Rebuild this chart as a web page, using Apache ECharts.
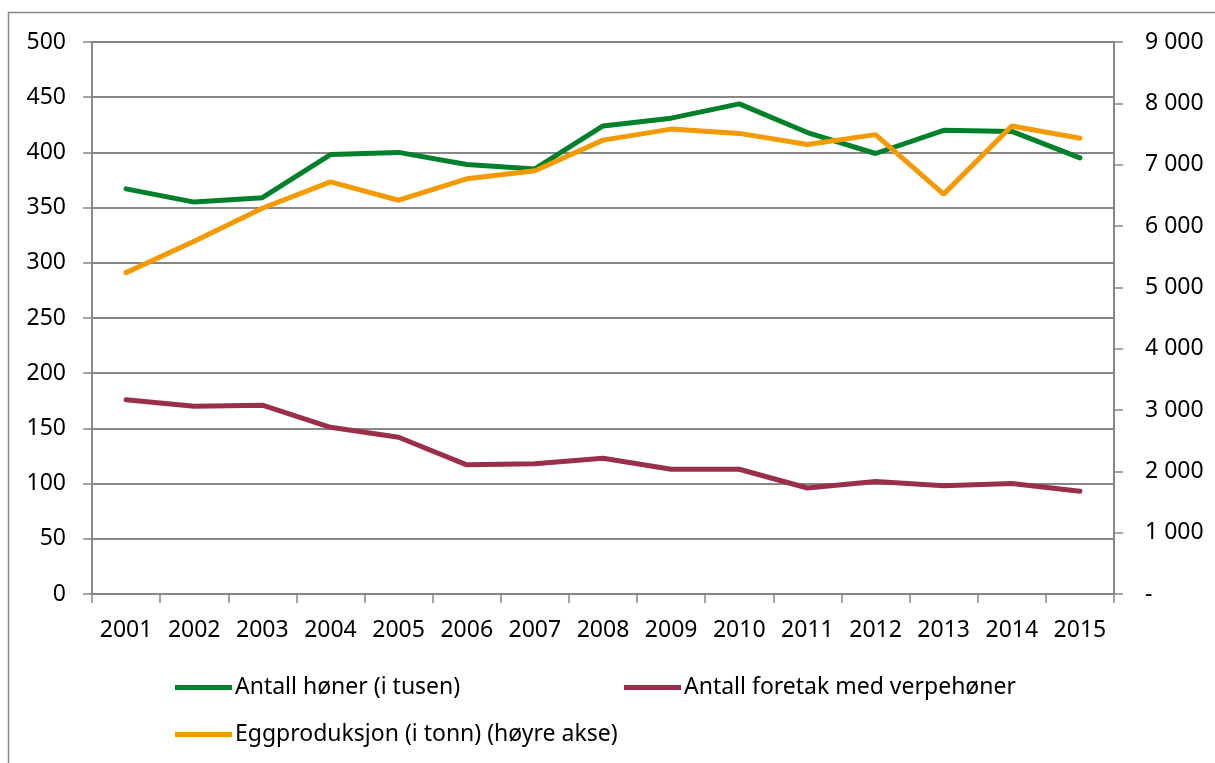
<!DOCTYPE html>
<html>
<head>
<meta charset="utf-8">
<script src="https://cdn.jsdelivr.net/npm/echarts@6/dist/echarts.min.js"></script>
<style>
  html, body { margin: 0; padding: 0; background: #fff; }
  #chart { width: 1215px; height: 763px; }
</style>
</head>
<body>
<div id="chart"></div>
<script>
// data
const years = ['2001', '2002', '2003', '2004', '2005', '2006', '2007', '2008',
  '2009', '2010', '2011', '2012', '2013', '2014', '2015'];
const hens = [367, 355, 359, 398, 400, 389, 385, 424, 431, 444, 418, 399, 420, 419, 395];
const farms = [176, 170, 171, 151, 142, 117, 118, 123, 113, 113, 96, 102, 98, 100, 93];
const eggs = [5240, 5750, 6290, 6720, 6420, 6770, 6900, 7400, 7580, 7510, 7330, 7490, 6520, 7630, 7430];
const names = ['Antall høner (i tusen)', 'Antall foretak med verpehøner', 'Eggproduksjon (i tonn) (høyre akse)'];
const colors = ['#00802b', '#9a2f4b', '#f39a00'];

const font = '"Noto Sans", "Open Sans", sans-serif';
const grey = '#878787';

const chart = echarts.init(document.getElementById('chart'));

// legend entries sit on a 2-column grid
function legendItem(name, left, top) {
  return {
    data: [name],
    left: left,
    top: top,
    padding: 0,
    icon: 'rect',
    itemWidth: 57,
    itemHeight: 5,
    selectedMode: false,
    textStyle: { fontFamily: font, fontSize: 23, color: '#000', padding: [0, 0, 0, -2] },
  };
}

const option = {
  backgroundColor: '#fff',
  animation: false,
  color: colors,
  textStyle: { fontFamily: font },
  graphic: [{
    type: 'rect',
    shape: { x: 8.5, y: 12.5, width: 1400, height: 900 },
    style: { fill: 'none', stroke: grey, lineWidth: 1.5 },
    silent: true,
  }],
  grid: { left: 92, right: 101, top: 42, bottom: 169 },
  legend: [
    legendItem(names[0], 175, 676),
    legendItem(names[1], 624, 676),
    legendItem(names[2], 175, 723),
  ],
  xAxis: {
    type: 'category',
    data: years,
    boundaryGap: true,
    axisLine: { lineStyle: { color: grey, width: 2 } },
    axisTick: { show: true, length: 9, lineStyle: { color: grey, width: 1.5 } },
    axisLabel: { interval: 0, margin: 25, fontSize: 23, color: '#000', fontFamily: font },
  },
  yAxis: [
    {
      type: 'value',
      min: 0,
      max: 500,
      interval: 50,
      axisLine: { show: true, lineStyle: { color: grey, width: 2 } },
      axisTick: { show: true, length: 9, lineStyle: { color: grey, width: 1.5 } },
      axisLabel: { margin: 26, fontSize: 23, color: '#000', fontFamily: font },
      splitLine: { lineStyle: { color: grey, width: 2 } },
    },
    {
      type: 'value',
      min: 0,
      max: 9000,
      interval: 1000,
      position: 'right',
      axisLine: { show: true, lineStyle: { color: grey, width: 2 } },
      axisTick: { show: true, length: 9, lineStyle: { color: grey, width: 1.5 } },
      splitLine: { show: false },
      axisLabel: {
        margin: 31,
        fontSize: 23,
        color: '#000',
        fontFamily: font,
        // 0 shown as "-", thousands split by a space
        formatter: v => v === 0 ? '-' : String(v).replace(/\B(?=(\d{3})+(?!\d))/g, ' '),
      },
    },
  ],
  series: [
    { name: names[0], type: 'line', data: hens, yAxisIndex: 0, showSymbol: false, symbol: 'none', lineStyle: { width: 5, cap: 'round' } },
    { name: names[1], type: 'line', data: farms, yAxisIndex: 0, showSymbol: false, symbol: 'none', lineStyle: { width: 5, cap: 'round' } },
    { name: names[2], type: 'line', data: eggs, yAxisIndex: 1, showSymbol: false, symbol: 'none', lineStyle: { width: 5, cap: 'round' } },
  ],
};
chart.setOption(option);
</script>
</body>
</html>
